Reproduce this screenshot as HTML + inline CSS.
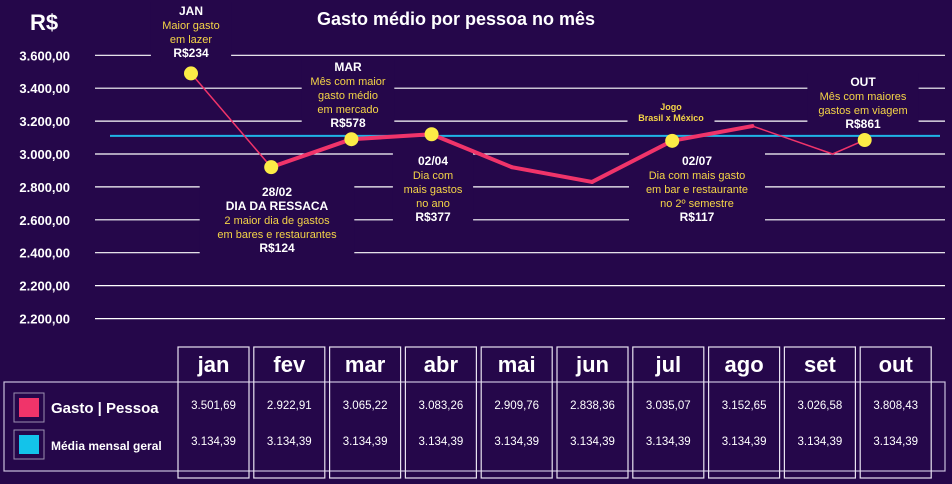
<!DOCTYPE html>
<html><head><meta charset="utf-8"><style>
html,body{margin:0;padding:0;background:#25074a;}
svg{display:block;font-family:"Liberation Sans",sans-serif;}
</style></head><body>
<svg id="c" width="952" height="484" viewBox="0 0 952 484">
<rect x="0" y="0" width="952" height="484" fill="#25074a"/>
<text x="30" y="30" fill="#fff" font-size="22" font-weight="bold">R$</text>
<text x="456" y="25" fill="#fff" font-size="18" font-weight="bold" text-anchor="middle">Gasto médio por pessoa no mês</text>
<g id="grid"></g>
<g id="annbg"></g>
<g id="lines"></g>
<g id="ann"></g>
<g id="table"></g>
</svg>
<script>
const months = ["jan","fev","mar","abr","mai","jun","jul","ago","set","out"];
const lineValues = [3490,2920,3090,3120,2920,2830,3080,3170,3000,3085];
const monthSlots = [0,1,2,3,4,5,6,7,8,8.4];
const avgValue = 3110;
const tickValues = [3600,3400,3200,3000,2800,2600,2400,2200];
const tickLabels = ["3.600,00","3.400,00","3.200,00","3.000,00","2.800,00","2.600,00","2.400,00","2.200,00","2.200,00"];
const gastoPrinted = ["3.501,69","2.922,91","3.065,22","3.083,26","2.909,76","2.838,36","3.035,07","3.152,65","3.026,58","3.808,43"];
const mediaPrinted = ["3.134,39","3.134,39","3.134,39","3.134,39","3.134,39","3.134,39","3.134,39","3.134,39","3.134,39","3.134,39"];
const dotMonths = [0,1,2,3,6,9];

const NS="http://www.w3.org/2000/svg";
function y(v){return 154-(v-3000)*32.9/200;}
function x(i){return 191+monthSlots[i]*80.2;}
function mk(tag,attrs,parent,txt){const e=document.createElementNS(NS,tag);for(const k in attrs)e.setAttribute(k,attrs[k]);if(txt!==undefined)e.textContent=txt;parent.appendChild(e);return e;}
const grid=document.getElementById('grid'),annbg=document.getElementById('annbg'),lines=document.getElementById('lines'),ann=document.getElementById('ann'),table=document.getElementById('table');

tickLabels.forEach((lab,i)=>{
  const yy = i<tickValues.length? y(tickValues[i]) : y(2200)+33;
  const l=mk('line',{x1:95,x2:945,y1:yy,y2:yy,stroke:'#fff','stroke-width':1.2},grid);
  
  
  const t=mk('text',{x:70,y:yy+5,fill:'#fff','font-size':13,'font-weight':'bold','text-anchor':'end'},grid,lab);
  
  
});

const av=mk('line',{x1:110,x2:940,y1:y(avgValue),y2:y(avgValue),stroke:'#1fb4e6','stroke-width':2},lines);



for(let i=0;i<lineValues.length-1;i++){
  const thin=(i===0||i>=7);
  const s=mk('line',{x1:x(i),y1:y(lineValues[i]),x2:x(i+1),y2:y(lineValues[i+1]),stroke:'#f0346a','stroke-width':thin?1.5:4,'stroke-linecap':'round'},lines);
  
  
}

const notes=[
 {cx:191,top:2,lines:[["JAN",1],["Maior gasto",0],["em lazer",0],["R$234",1]]},
 {cx:348,top:58,lines:[["MAR",1],["Mês com maior",0],["gasto médio",0],["em mercado",0],["R$578",1]]},
 {cx:277,top:183,lines:[["28/02",1],["DIA DA RESSACA",1],["2 maior dia de gastos",0],["em bares e restaurantes",0],["R$124",1]]},
 {cx:433,top:152,lines:[["02/04",1],["Dia com",0],["mais gastos",0],["no ano",0],["R$377",1]]},
 {cx:671,top:100,small:true,lines:[["Jogo",0],["Brasil x México",0]]},
 {cx:697,top:152,lines:[["02/07",1],["Dia com mais gasto",0],["em bar e restaurante",0],["no 2º semestre",0],["R$117",1]]},
 {cx:863,top:73,lines:[["OUT",1],["Mês com maiores",0],["gastos em viagem",0],["R$861",1]]}
];
notes.forEach(n=>{
  const lh=n.small?11:14;
  let maxw=0;n.lines.forEach(l=>maxw=Math.max(maxw,l[0].length*(n.small?5:6.2)));
  const r=mk('rect',{x:n.cx-maxw/2-6,y:n.top,width:maxw+12,height:n.lines.length*lh+4,fill:'#25074a'},annbg);
  
  
  n.lines.forEach((l,k)=>{
    const t=mk('text',{x:n.cx,y:n.top+lh*(k+1)-1,fill:l[1]?'#fff':'#f5d547','font-size':n.small?9:(l[1]?12:11),'font-weight':(l[1]||n.small)?'bold':'normal','text-anchor':'middle'},ann,l[0]);
    
    
  });
});

dotMonths.forEach(i=>{
  const c=mk('circle',{cx:x(i),cy:y(lineValues[i]),r:7,fill:'#fcec46'},ann);
  
  
});

const lb=mk('rect',{x:4,y:382,width:941,height:89,fill:'none',stroke:'#c9bfdc','stroke-width':1.2},table);


months.forEach((m,i)=>{
  const bx=178+i*75.8;
  const r=mk('rect',{x:bx,y:347,width:71,height:131,fill:'none',stroke:'#e8e2f0','stroke-width':1.2},table);
  
  
  const h=mk('text',{x:bx+35.5,y:372,fill:'#fff','font-size':22,'font-weight':'bold','text-anchor':'middle'},table,m);
  
  
  const a=mk('text',{x:bx+35.5,y:409,fill:'#fff','font-size':11.5,'text-anchor':'middle'},table,gastoPrinted[i]);
  
  
  const b=mk('text',{x:bx+35.5,y:445,fill:'#fff','font-size':11.5,'text-anchor':'middle'},table,mediaPrinted[i]);
  
  
});
[[393,'#f0346a','Gasto | Pessoa',15,'legend-gasto'],[430,'#13c3ea','Média mensal geral',12,'legend-media']].forEach(L=>{
  const o=mk('rect',{x:14,y:L[0],width:30,height:29,fill:'none',stroke:'#9a8fb0','stroke-width':1},table);
  
  
  const s=mk('rect',{x:19,y:L[0]+5,width:20,height:19,fill:L[1]},table);
  
  
  const t=mk('text',{x:51,y:L[0]+20,fill:'#fff','font-size':L[3],'font-weight':'bold'},table,L[2]);
  
  
});
</script>
</body></html>
